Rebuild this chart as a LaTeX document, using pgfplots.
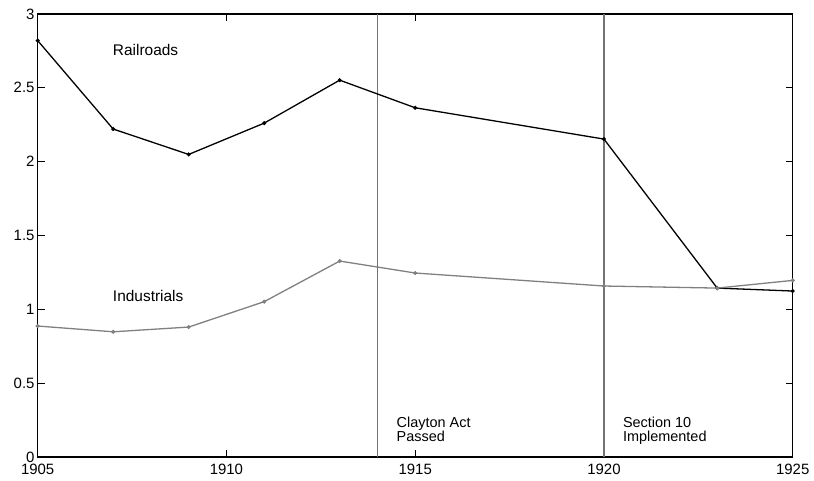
\documentclass[border=0pt]{standalone}
\usepackage{pgfplots}
\pgfplotsset{compat=1.18}
\usepackage{fontspec}
\setmainfont{Liberation Sans}
\begin{document}
\begin{tikzpicture}
\begin{axis}[
  scale only axis, width=755bp, height=443bp,
  xmin=1905, xmax=1925, ymin=0, ymax=3,
  xtick={1905,1910,1915,1920,1925},
  ytick={0,0.5,1,1.5,2,2.5,3},
  tick align=inside, major tick length=7bp,
  tick style={black, line width=0.7pt},
  axis line style={line width=1.3pt},
  xticklabel style={/pgf/number format/1000 sep={}, inner sep=0pt, yshift=-7bp},
  yticklabel style={inner sep=0pt, xshift=-3bp},
  /pgf/number format/assume math mode=true,
  ticklabel style={font=\fontsize{15}{16}\selectfont},
  clip=false,
]
\path (rel axis cs:-0.0499,-0.0519) rectangle (rel axis cs:1.0282,1.0316);
\addplot[black!55, line width=1.1pt] coordinates {(1914,0) (1914,3)};
\addplot[black!55, line width=1.1pt] coordinates {(1920,0) (1920,3)};
\addplot[black, line width=1.3pt, mark=*, mark size=1.3pt] coordinates {
(1905,2.82) (1907,2.221) (1909,2.049) (1911,2.261) (1913,2.552) (1915,2.365) (1920,2.153) (1923,1.144) (1925,1.124)};
\addplot[black!50, line width=1.3pt, mark=*, mark size=1.3pt] coordinates {
(1905,0.887) (1907,0.848) (1909,0.88) (1911,1.052) (1913,1.327) (1915,1.246) (1920,1.158) (1923,1.144) (1925,1.196)};
\node[anchor=base west, font=\fontsize{15.5}{16}\selectfont, inner sep=0pt] at (axis cs:1906.99,2.716) {Railroads};
\node[anchor=base west, font=\fontsize{15.5}{16}\selectfont, inner sep=0pt] at (axis cs:1906.99,1.056) {Industrials};
\node[anchor=base west, font=\fontsize{14.5}{15}\selectfont, inner sep=0pt] at (axis cs:1914.506,0.2011) {Clayton Act};
\node[anchor=base west, font=\fontsize{14.5}{15}\selectfont, inner sep=0pt] at (axis cs:1914.506,0.1084) {Passed};
\node[anchor=base west, font=\fontsize{14.5}{15}\selectfont, inner sep=0pt] at (axis cs:1920.5,0.2011) {Section 10};
\node[anchor=base west, font=\fontsize{14.5}{15}\selectfont, inner sep=0pt] at (axis cs:1920.5,0.1084) {Implemented};
\end{axis}
\end{tikzpicture}
\end{document}
